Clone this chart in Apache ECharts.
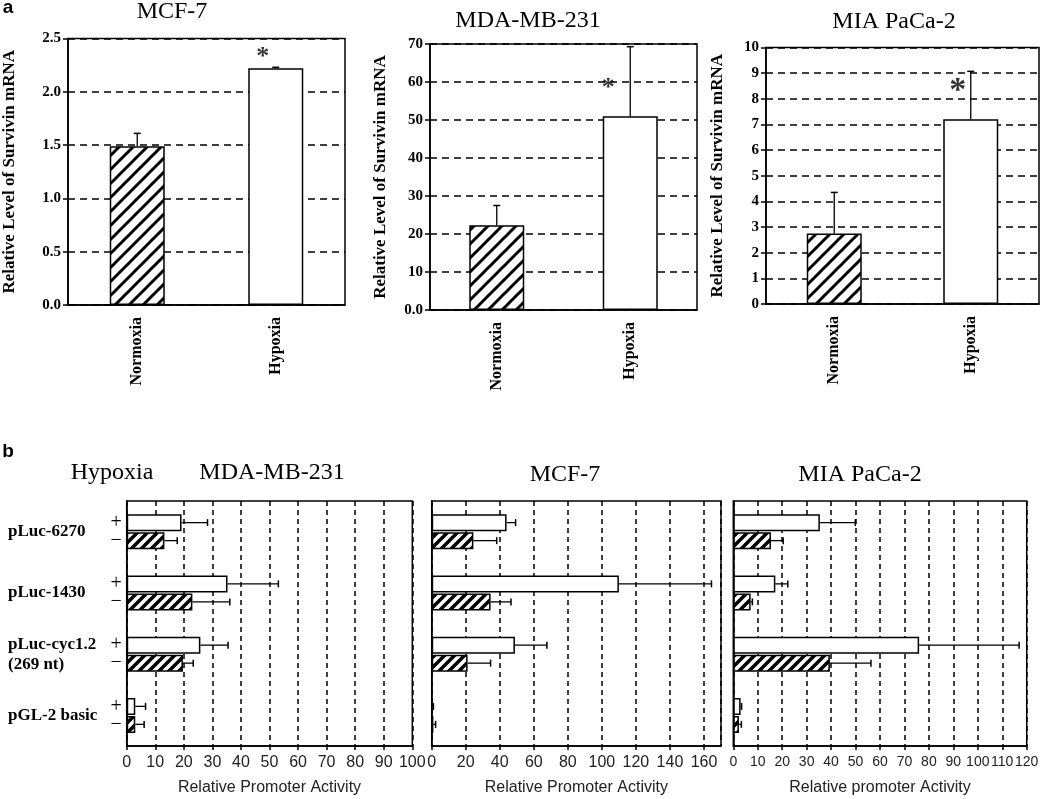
<!DOCTYPE html>
<html><head><meta charset="utf-8">
<script src="https://cdn.jsdelivr.net/npm/echarts@6/dist/echarts.min.js"></script>
<style>html,body{margin:0;padding:0;background:#fff}#c{width:1050px;height:799px}</style>
</head><body><div id="c"></div>
<script>
// ---------- data: panel a ----------
const aCategories = ['Normoxia', 'Hypoxia'];
const aTitles = ['MCF-7', 'MDA-MB-231', 'MIA PaCa-2'];
const aMcf7Mean = [1.49, 2.22];
const aMcf7Err = [0.12, 0.01];
const aMdaMean = [22.3, 51.0];
const aMdaErr = [5.2, 18.3];
const aMiaMean = [2.75, 7.2];
const aMiaErr = [1.6, 1.87];
const aStarValue = [2.36, 60, 8.5];
const aYMax = [2.5, 70, 10];
const aYInterval = [0.5, 10, 1];
const aYLabelsMda = ['0.0', '10', '20', '30', '40', '50', '60', '70'];
const aYName = 'Relative Level of Survivin mRNA';

// ---------- data: panel b ----------
const bConstructs = ['pLuc-6270', 'pLuc-1430', 'pLuc-cyc1.2\n(269 nt)', 'pGL-2 basic'];
const bTitles = ['MDA-MB-231', 'MCF-7', 'MIA PaCa-2'];
const bMdaPlus = [19.2, 35.3, 25.8, 3.0];
const bMdaPlusErr = [9.1, 17.8, 9.7, 3.6];
const bMdaMinus = [13.2, 23.0, 19.7, 3.0];
const bMdaMinusErr = [4.5, 13.1, 3.6, 3.1];
const bMcfPlus = [44.0, 110.0, 48.9, 0.6];
const bMcfPlusErr = [5.3, 54.4, 18.8, 0.4];
const bMcfMinus = [24.5, 34.6, 21.1, 1.0];
const bMcfMinusErr = [13.7, 12.0, 13.5, 1.3];
const bMiaPlus = [35.4, 17.2, 76.0, 3.0];
const bMiaPlusErr = [14.5, 5.1, 40.9, 0.4];
const bMiaMinus = [15.4, 7.1, 39.5, 2.3];
const bMiaMinusErr = [5.0, 0.7, 16.8, 1.0];
const bXMax = [100, 170, 120];
const bXInterval = [10, 20, 10];
const bXNames = ['Relative Promoter Activity', 'Relative Promoter Activity', 'Relative promoter Activity'];
const bSignLabels = ['+', '\u2212'];

// ---------- styling helpers ----------
const SERIF = '"Liberation Serif", "Times New Roman", serif';
const SANS = '"Liberation Sans", Arial, sans-serif';

function hatch(size, lw) {
  const c = document.createElement('canvas');
  c.width = c.height = size;
  const ctx = c.getContext('2d');
  ctx.fillStyle = '#fff'; ctx.fillRect(0, 0, size, size);
  ctx.strokeStyle = '#000'; ctx.lineWidth = lw;
  ctx.beginPath();
  ctx.moveTo(-1, size + 1); ctx.lineTo(size + 1, -1);
  ctx.moveTo(-size / 2 - 1, size / 2 + 1); ctx.lineTo(size / 2 + 1, -size / 2 - 1);
  ctx.moveTo(size / 2 - 1, size * 1.5 + 1); ctx.lineTo(size * 1.5 + 1, size / 2 - 1);
  ctx.stroke();
  return c;
}
const hatchA = { image: hatch(14, 3), repeat: 'repeat' };
const hatchB = { image: hatch(10, 3.5), repeat: 'repeat' };

const aGrids = [
  { left: 65, top: 38.5, width: 280, height: 266.5 },
  { left: 430, top: 44, width: 267, height: 266 },
  { left: 766, top: 47.5, width: 273, height: 256.5 }
];
const bGrids = [
  { left: 126.7, top: 501, width: 285.6, height: 245 },
  { left: 431.7, top: 501, width: 289.3, height: 245 },
  { left: 733.3, top: 501, width: 293.4, height: 245 }
];
const grid = aGrids.concat(bGrids).map(g => Object.assign({ show: true, borderColor: '#000', borderWidth: 1.5, backgroundColor: 'rgba(0,0,0,0)' }, g));

const xAxis = [], yAxis = [], series = [];
const aMeans = [aMcf7Mean, aMdaMean, aMiaMean];
const aErrs = [aMcf7Err, aMdaErr, aMiaErr];
const aNameGap = [50, 41, 40];
const aStarOffset = [[-13, 4], [-22, 6], [-13, 5]];
const aStarSize = [26, 26, 34];

for (let i = 0; i < 3; i++) {
  xAxis.push({
    type: 'category', gridIndex: i, data: aCategories,
    axisLine: { lineStyle: { color: '#000', width: 1.5 } },
    axisTick: { show: false },
    axisLabel: { rotate: 90, margin: 12, color: '#000', fontFamily: SERIF, fontWeight: 'bold', fontSize: 16, hideOverlap: false }
  });
  yAxis.push({
    type: 'value', gridIndex: i, min: 0, max: aYMax[i], interval: aYInterval[i],
    axisLine: { show: true, lineStyle: { color: '#000', width: 1.5 } },
    axisTick: { show: true, length: 5, lineStyle: { color: '#000', width: 1.5 } },
    splitLine: { show: true, lineStyle: { color: '#000', width: 1.5, type: [7, 5] } },
    axisLabel: {
      color: '#000', fontFamily: SERIF, fontWeight: 'bold', fontSize: 15, margin: 7, hideOverlap: false,
      formatter: i === 0 ? (v => v.toFixed(1)) : (i === 1 ? (v => aYLabelsMda[Math.round(v / 10)]) : (v => String(v)))
    },
    name: aYName, nameLocation: 'middle', nameGap: aNameGap[i], nameRotate: 90,
    nameTextStyle: { color: '#000', fontFamily: SERIF, fontWeight: 'bold', fontSize: 17 }
  });
  series.push({
    type: 'bar', xAxisIndex: i, yAxisIndex: i, barWidth: 55, z: 3,
    data: aMeans[i].map((v, k) => ({ value: v, itemStyle: { color: k === 0 ? hatchA : '#fff' } })),
    itemStyle: { borderColor: '#000', borderWidth: 1.5 }
  });
  const mean = aMeans[i], err = aErrs[i];
  series.push({
    type: 'custom', xAxisIndex: i, yAxisIndex: i, z: 5,
    data: mean.map((m, k) => [k, m, m + err[k]]),
    encode: { x: 0, y: [1, 2] },
    renderItem: function (params, api) {
      const p0 = api.coord([api.value(0), api.value(1)]);
      const p1 = api.coord([api.value(0), api.value(2)]);
      const cap = 3.5;
      return { type: 'group', children: [
        { type: 'line', shape: { x1: p0[0], y1: p0[1], x2: p1[0], y2: p1[1] }, style: { stroke: '#000', lineWidth: 1.3 } },
        { type: 'line', shape: { x1: p1[0] - cap, y1: p1[1], x2: p1[0] + cap, y2: p1[1] }, style: { stroke: '#000', lineWidth: 1.5 } }
      ] };
    }
  });
  series.push({
    type: 'scatter', xAxisIndex: i, yAxisIndex: i, z: 6, symbolSize: 1,
    itemStyle: { color: 'rgba(0,0,0,0)' },
    data: [[1, aStarValue[i]]],
    label: { show: true, formatter: '*', position: 'inside', offset: aStarOffset[i], color: '#000', fontFamily: SERIF, fontWeight: 'bold', fontSize: aStarSize[i] }
  });
}

const bPlus = [bMdaPlus, bMcfPlus, bMiaPlus];
const bPlusErr = [bMdaPlusErr, bMcfPlusErr, bMiaPlusErr];
const bMinus = [bMdaMinus, bMcfMinus, bMiaMinus];
const bMinusErr = [bMdaMinusErr, bMcfMinusErr, bMiaMinusErr];
const BAR_B = 17, GAP_B = 1;
const bLabelSize = [16, 16, 14];

function hErr(idx, mean, err, dir) {
  return {
    type: 'custom', xAxisIndex: idx, yAxisIndex: idx, z: 5,
    data: mean.map((m, k) => [m, m + err[k], k]),
    encode: { x: [0, 1], y: 2 },
    renderItem: function (params, api) {
      const off = dir * (BAR_B + GAP_B) / 2;
      const p0 = api.coord([api.value(0), api.value(2)]);
      const p1 = api.coord([api.value(1), api.value(2)]);
      const y = p0[1] + off, cap = 3.5;
      return { type: 'group', children: [
        { type: 'line', shape: { x1: p0[0], y1: y, x2: p1[0], y2: y }, style: { stroke: '#000', lineWidth: 1.3 } },
        { type: 'line', shape: { x1: p1[0], y1: y - cap, x2: p1[0], y2: y + cap }, style: { stroke: '#000', lineWidth: 1.5 } }
      ] };
    }
  };
}

for (let j = 0; j < 3; j++) {
  const idx = 3 + j;
  xAxis.push({
    type: 'value', gridIndex: idx, min: 0, max: bXMax[j], interval: bXInterval[j],
    axisLine: { show: true, lineStyle: { color: '#000', width: 1.5 } },
    axisTick: { show: true, length: 4, lineStyle: { color: '#000', width: 1.5 } },
    splitLine: { show: true, lineStyle: { color: '#000', width: 1.5, type: [5, 4] } },
    axisLabel: { color: '#222', fontFamily: SANS, fontSize: bLabelSize[j], margin: 9, hideOverlap: false, showMinLabel: true, showMaxLabel: j !== 1 },
    name: bXNames[j], nameLocation: 'middle', nameGap: 34,
    nameTextStyle: { color: '#222', fontFamily: SANS, fontSize: 16 }
  });
  yAxis.push({
    type: 'category', gridIndex: idx, inverse: true, data: bConstructs,
    axisLine: { show: true, lineStyle: { color: '#000', width: 1.5 } },
    axisTick: { show: false },
    axisLabel: { show: j === 0, align: 'left', margin: 118.7, color: '#000', fontFamily: SERIF, fontWeight: 'bold', fontSize: 17, lineHeight: 20, hideOverlap: false }
  });
  const signLabel = (k) => ({ show: j === 0, position: 'left', distance: 5, formatter: bSignLabels[k], color: '#000', fontFamily: SERIF, fontSize: 20 });
  series.push({
    type: 'bar', xAxisIndex: idx, yAxisIndex: idx, barWidth: BAR_B, barGap: (GAP_B / BAR_B * 100) + '%', z: 3,
    data: bPlus[j], itemStyle: { color: '#fff', borderColor: '#000', borderWidth: 1.5 }, label: signLabel(0)
  });
  series.push({
    type: 'bar', xAxisIndex: idx, yAxisIndex: idx, barWidth: BAR_B, barGap: (GAP_B / BAR_B * 100) + '%', z: 3,
    data: bMinus[j], itemStyle: { color: hatchB, borderColor: '#000', borderWidth: 1.5 }, label: signLabel(1)
  });
  series.push(hErr(idx, bPlus[j], bPlusErr[j], -1));
  series.push(hErr(idx, bMinus[j], bMinusErr[j], 1));
}

function txt(text, x, y, size, font, weight) {
  return { type: 'text', x: x, y: y, z: 10, style: { text: text, fill: '#000', font: (weight || 'normal') + ' ' + size + 'px ' + font, textAlign: 'center', textVerticalAlign: 'middle' } };
}
const graphic = [
  txt('a', 8, 8, 19, SANS, 'bold'),
  txt('b', 8, 452, 19, SANS, 'bold'),
  txt(aTitles[0], 172, 12, 24, SERIF),
  txt(aTitles[1], 528, 21, 24, SERIF),
  txt(aTitles[2], 894, 22, 24, SERIF),
  txt('Hypoxia', 112, 473, 24, SERIF),
  txt(bTitles[0], 272, 473, 24, SERIF),
  txt(bTitles[1], 565, 475, 24, SERIF),
  txt(bTitles[2], 860, 475, 24, SERIF)
];

const chart = echarts.init(document.getElementById('c'), null, { renderer: 'canvas' });
chart.setOption({ animation: false, backgroundColor: '#fff', grid, xAxis, yAxis, series, graphic });
</script>
</body></html>
